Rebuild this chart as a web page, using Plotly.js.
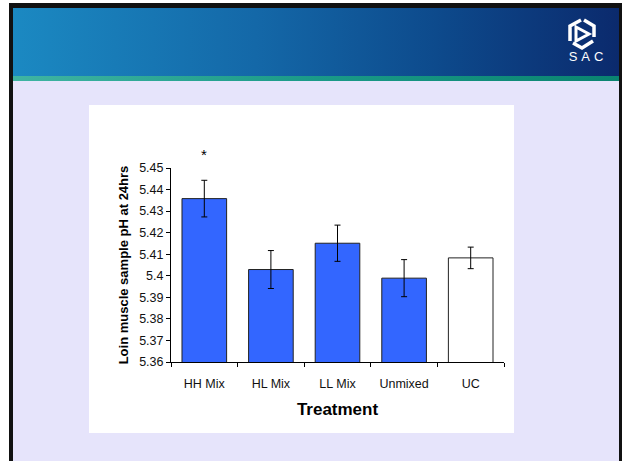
<!DOCTYPE html>
<html>
<head>
<meta charset="utf-8">
<script src="https://cdn.plot.ly/plotly-3.0.1.min.js"></script>
<style>
  html, body { margin: 0; padding: 0; background: #ffffff; width: 623px; height: 461px; overflow: hidden; }
  #frame { position: absolute; left: 9px; top: 3px; width: 613px; height: 470px; background: #111111; }
  #slide { position: absolute; left: 13px; top: 8px; width: 606px; height: 460px; background: #e6e4fb; }
  #header { position: absolute; left: 0; top: 0; width: 606px; height: 68px;
            background: linear-gradient(to right, #1b89c2 0%, #1468a8 40%, #0d4a8c 70%, #0b2a6d 100%); }
  #stripe { position: absolute; left: 0; top: 68px; width: 606px; height: 5px;
            background: linear-gradient(to right, #3fb4a2 0%, #1a9a88 50%, #0a8470 100%); }
  #logo { position: absolute; left: 553px; top: 9px; width: 32px; height: 34px; }
  #sac { position: absolute; left: 547px; top: 41px; width: 48px; text-align: center; padding-left: 4px;
         font-family: "Liberation Sans", Arial, sans-serif; font-size: 13px; color: #ffffff; letter-spacing: 4px; }
  #chart { position: absolute; left: 89px; top: 105px; width: 425px; height: 328px; }
</style>
</head>
<body>
<div id="frame"></div>
<div id="slide">
  <div id="header"></div>
  <div id="stripe"></div>
  <svg id="logo" viewBox="0 0 32 34">
    <g fill="none" stroke="#ffffff" stroke-width="3.5" stroke-linejoin="miter">
      <path d="M4 24 L4 9 L15 3" />
      <path d="M18 3 L28 9 L28 20" />
      <path d="M27 24 L16 31 L7 26" />
      <path d="M10 10 L23 17 L10 24 Z" stroke-width="3"/>
    </g>
  </svg>
  <div id="sac">SAC</div>
</div>
<div id="chart"></div>
<script>
const categories = ["HH Mix", "HL Mix", "LL Mix", "Unmixed", "UC"];
const phValues = [5.4358, 5.4029, 5.4151, 5.3989, 5.4083];
const phErrors = [0.0085, 0.0088, 0.0084, 0.0086, 0.0050];
const barColors = ["#3366ff", "#3366ff", "#3366ff", "#3366ff", "#ffffff"];
const yTickVals = [5.36, 5.37, 5.38, 5.39, 5.40, 5.41, 5.42, 5.43, 5.44, 5.45];
const yTickText = ["5.36", "5.37", "5.38", "5.39", "5.4", "5.41", "5.42", "5.43", "5.44", "5.45"];
const starLabel = "*";

const font = "Liberation Sans, Arial, sans-serif";

const trace = {
  type: "bar",
  x: categories,
  y: phValues,
  marker: { color: barColors, line: { color: "#222222", width: 1 } },
  error_y: { type: "data", array: phErrors, visible: true, color: "#000000", thickness: 1, width: 3 },
  hoverinfo: "x+y"
};

const layout = {
  width: 425,
  height: 328,
  margin: { l: 82, r: 10, t: 63, b: 71 },
  paper_bgcolor: "#ffffff",
  plot_bgcolor: "#ffffff",
  bargap: 0.33,
  showlegend: false,
  font: { family: font, size: 12.5, color: "#000000" },
  xaxis: {
    type: "category",
    showline: true, linecolor: "#000000", linewidth: 1,
    ticks: "outside", tickson: "boundaries", ticklen: 4, tickcolor: "#000000",
    showgrid: false, zeroline: false,
    ticklabelstandoff: 10,
    tickfont: { family: font, size: 12.5, color: "#111111" },
    title: { text: "Treatment", font: { family: font, size: 17, color: "#000000", weight: "bold" }, standoff: 13 }
  },
  yaxis: {
    range: [5.36, 5.45],
    tickvals: yTickVals, ticktext: yTickText,
    showline: true, linecolor: "#000000", linewidth: 1,
    ticks: "outside", ticklen: 4, tickcolor: "#000000",
    showgrid: false, zeroline: false,
    tickfont: { family: font, size: 12.5, color: "#111111" },
    title: { text: "Loin muscle sample pH at 24hrs", font: { family: font, size: 13, color: "#000000", weight: "bold" }, standoff: 7 }
  },
  annotations: [{
    x: categories[0], y: 1.125, xref: "x", yref: "paper",
    text: starLabel, showarrow: false,
    font: { family: font, size: 15, color: "#000000" }
  }]
};

Plotly.newPlot("chart", [trace], layout, { displayModeBar: false, staticPlot: true });
</script>
</body>
</html>
